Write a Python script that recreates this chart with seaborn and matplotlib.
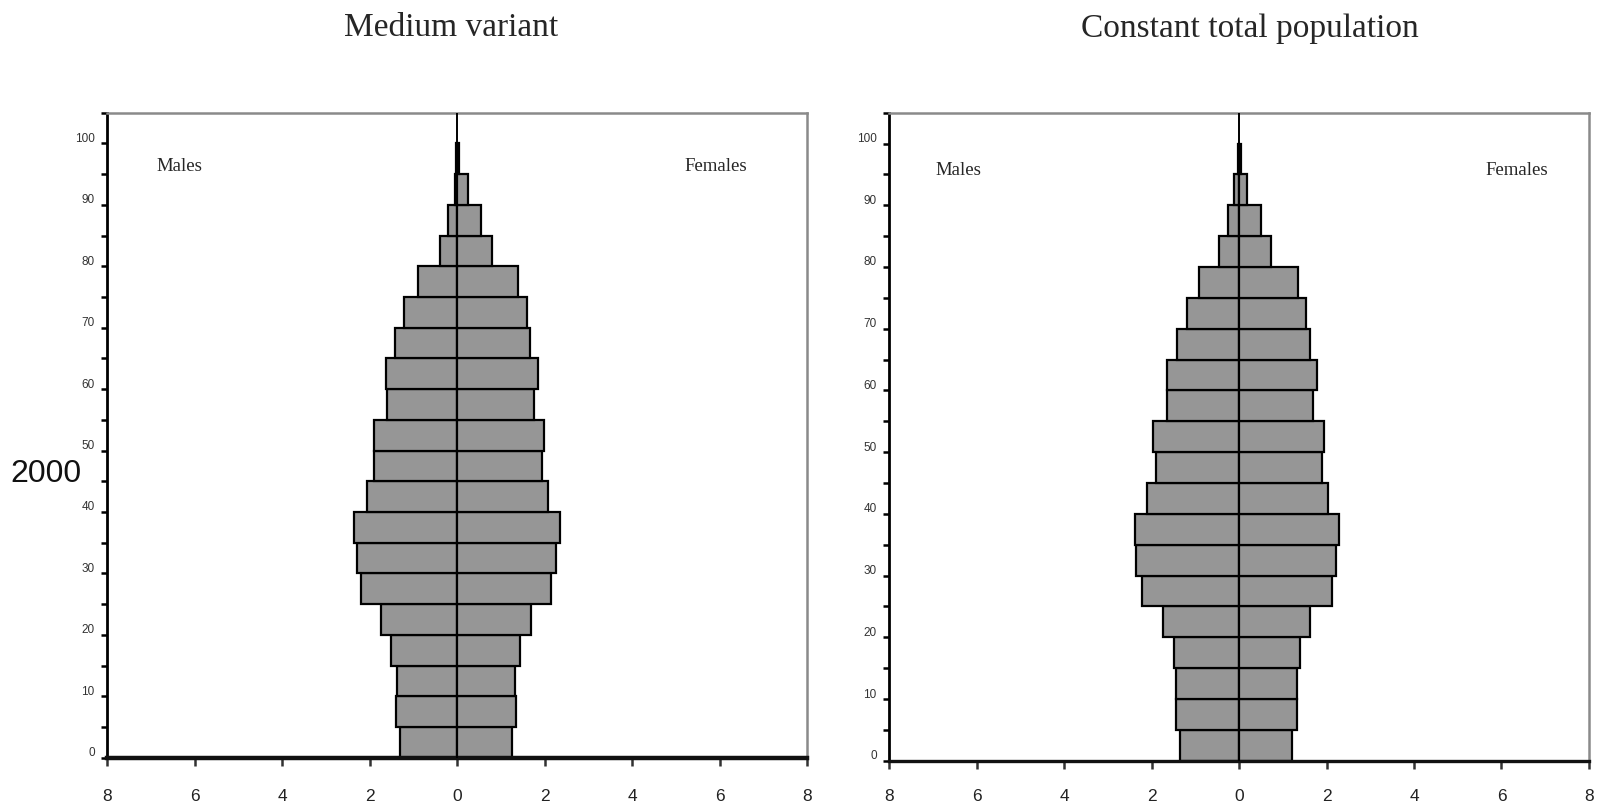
import numpy as np
import pandas as pd
import matplotlib
matplotlib.use("Agg")
import matplotlib.pyplot as plt
from matplotlib import font_manager
from matplotlib.transforms import ScaledTranslation
import seaborn as sns

# Five-year age groups (lower bound of each group)
age_lower = [0, 5, 10, 15, 20, 25, 30, 35, 40, 45,
             50, 55, 60, 65, 70, 75, 80, 85, 90, 95]

# Percentage of total population, 2000
medium_males = [1.30, 1.41, 1.38, 1.51, 1.74, 2.21, 2.30, 2.35, 2.06, 1.90,
                1.90, 1.61, 1.63, 1.42, 1.21, 0.89, 0.40, 0.21, 0.06, 0.02]
medium_females = [1.25, 1.35, 1.33, 1.44, 1.69, 2.15, 2.27, 2.35, 2.08, 1.95,
                  1.99, 1.75, 1.84, 1.67, 1.59, 1.40, 0.79, 0.54, 0.24, 0.05]

constant_males = [1.35, 1.45, 1.44, 1.50, 1.74, 2.23, 2.35, 2.39, 2.10, 1.90,
                  1.96, 1.64, 1.64, 1.41, 1.20, 0.91, 0.46, 0.25, 0.11, 0.02]
constant_females = [1.21, 1.33, 1.33, 1.39, 1.63, 2.13, 2.22, 2.29, 2.04, 1.89,
                    1.94, 1.69, 1.78, 1.63, 1.53, 1.35, 0.74, 0.49, 0.19, 0.04]

panel_titles = ["Medium variant", "Constant total population"]
year_label = "2000"
x_ticks = [-8, -6, -4, -2, 0, 2, 4, 6, 8]
x_tick_labels = ["8", "6", "4", "2", "0", "2", "4", "6", "8"]
y_major = list(range(0, 101, 10))
y_minor = list(range(5, 106, 10))

sns.set_style("white")
names = {f.name for f in font_manager.fontManager.ttflist}
NARROW = "Liberation Sans Narrow" if "Liberation Sans Narrow" in names else "Liberation Sans"
SERIF = "Liberation Serif"
plt.rcParams["font.family"] = [NARROW, "DejaVu Sans"]

BAR_COLOR = "#969696"

fig = plt.figure(figsize=(15.98, 8.05), dpi=100)
ax_left = fig.add_axes([0.0671, 0.0588, 0.4380, 0.8012])
ax_right = fig.add_axes([0.5565, 0.0550, 0.4378, 0.8050])


def draw_pyramid(ax, males, females, label_pos, bottom_lw, xpad):
    mid = np.array(age_lower) + 2.5
    df = pd.DataFrame({
        "age": np.concatenate([mid, mid]),
        "value": np.concatenate([-np.array(males), np.array(females)]),
        "sex": ["Males"] * len(mid) + ["Females"] * len(mid),
    })
    for sex in ["Males", "Females"]:
        sub = df[df["sex"] == sex]
        sns.barplot(data=sub, x="value", y="age", orient="y", native_scale=True,
                    width=1.0, color=BAR_COLOR, saturation=1, edgecolor="black",
                    linewidth=1.6, errorbar=None, ax=ax)
    ax.axvline(0, color="black", lw=1.4, zorder=5)
    ax.set_xlim(-8, 8)
    ax.set_ylim(0, 105)
    ax.set_xlabel("")
    ax.set_ylabel("")

    for side in ["top", "right"]:
        ax.spines[side].set_color("#8a8a8a")
        ax.spines[side].set_linewidth(1.8)
    ax.spines["left"].set_color("black")
    ax.spines["left"].set_linewidth(2.0)
    ax.spines["bottom"].set_color("#111111")
    ax.spines["bottom"].set_linewidth(bottom_lw)

    ax.set_xticks(x_ticks)
    ax.set_xticklabels(x_tick_labels, fontsize=12.5, color="#222222",
                       family=[NARROW, "DejaVu Sans"])
    ax.tick_params(axis="x", direction="out", length=6, width=1.8, color="#333333",
                   pad=xpad, bottom=True)
    ax.set_yticks(y_major)
    ax.set_yticks(y_minor, minor=True)
    ax.set_yticklabels([str(v) for v in y_major], fontsize=8.5, color="#333333",
                       family=[NARROW, "DejaVu Sans"])
    ax.tick_params(axis="y", which="both", direction="out", length=4, width=1.8,
                   color="black", pad=5, left=True)
    shift = ScaledTranslation(0, 0.06, fig.dpi_scale_trans)
    for lab in ax.get_yticklabels():
        lab.set_transform(lab.get_transform() + shift)

    (mx, my), (fx, fy) = label_pos
    ax.text(mx, my, "Males", ha="center", va="center", fontsize=13.5, family=SERIF)
    ax.text(fx, fy, "Females", ha="center", va="center", fontsize=13.5, family=SERIF)
    ax.grid(False)


draw_pyramid(ax_left, medium_males, medium_females,
             ((-6.34, 96.3), (5.9, 96.3)), 3.2, 16.3)
draw_pyramid(ax_right, constant_males, constant_females,
             ((-6.41, 95.7), (6.35, 95.7)), 2.4, 14.2)

fig.text(451.5 / 1598, 1 - 27.5 / 805, panel_titles[0], ha="center", va="center",
         fontsize=24, family=SERIF)
fig.text(1250 / 1598, 1 - 28.5 / 805, panel_titles[1], ha="center", va="center",
         fontsize=24, family=SERIF)
fig.text(45.8 / 1598, 1 - 474 / 805, year_label, ha="center", va="center",
         fontsize=23, family=[NARROW, "DejaVu Sans"], color="#111111")

fig.savefig("out.png", dpi=100)
